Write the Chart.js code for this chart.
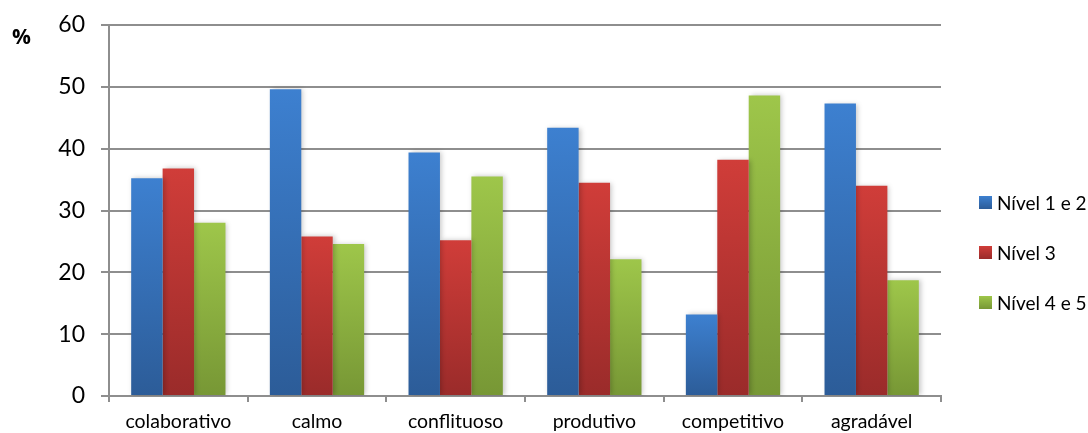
<!DOCTYPE html>
<html>
<head>
<meta charset="utf-8">
<script src="https://cdn.jsdelivr.net/npm/chart.js@4/dist/chart.umd.min.js"></script>
<style>
  body { margin: 0; background: #fff; }
  #wrap { position: relative; width: 1088px; height: 433px; }
  #pct { position: absolute; left: 12px; top: 22px; font-family: "Open Sans", sans-serif; font-weight: 700; font-size: 21px; color: #000; }
  #legend { position: absolute; left: 979px; top: 0; font: 19px Lato, sans-serif; color: #000; }
  .item { position: absolute; left: 0; white-space: nowrap; display: flex; align-items: center; }
  .item span.box { width: 13px; height: 13px; margin-right: 5px; display: inline-block; }
</style>
</head>
<body>
<div id="wrap">
  <canvas id="myChart" width="1088" height="433"></canvas>
  <div id="pct">%</div>
  <div id="legend"></div>
</div>
<script>
const categories = ['colaborativo', 'calmo', 'conflituoso', 'produtivo', 'competitivo', 'agradável'];
const seriesNames = ['Nível 1 e 2', 'Nível 3', 'Nível 4 e 5'];
const nivel12 = [35.2, 49.6, 39.4, 43.4, 13.2, 47.3];
const nivel3 = [36.8, 25.8, 25.2, 34.5, 38.2, 34.0];
const nivel45 = [28.0, 24.6, 35.5, 22.1, 48.6, 18.7];
const yTicks = [0, 10, 20, 30, 40, 50, 60];

// top and bottom colour of each bar's gradient
const shades = [
  ['#3d80d0', '#2c5c98'],
  ['#d03d39', '#9a2b2a'],
  ['#9ec64a', '#779735']
];

var barFill = function(idx){
  return function(ctx){
    var chart = ctx.chart;
    var y = chart.scales.y;
    if(!y || ctx.parsed === undefined) return shades[idx][0];
    var top = y.getPixelForValue(ctx.parsed.y);
    var bottom = y.getPixelForValue(0);
    if(!isFinite(top) || !isFinite(bottom) || top === bottom) return shades[idx][0];
    var g = chart.ctx.createLinearGradient(0, top, 0, bottom);
    g.addColorStop(0, shades[idx][0]);
    g.addColorStop(1, shades[idx][1]);
    return g;
  };
};

// soft shadow on the right side of the bars
var barShadow = {
  id: 'barShadow',
  beforeDatasetsDraw: function(chart){
    var c = chart.ctx;
    c.save();
    c.shadowColor = 'rgba(0,0,0,0.22)';
    c.shadowBlur = 5;
    c.shadowOffsetX = 2;
    c.shadowOffsetY = 0;
  },
  afterDatasetsDraw: function(chart){
    chart.ctx.restore();
  }
};

var values = [nivel12, nivel3, nivel45];
var datasets = seriesNames.map(function(name, i){
  return {
    label: name,
    data: values[i],
    backgroundColor: barFill(i),
    borderWidth: 0,
    categoryPercentage: 0.68,
    barPercentage: 1.0
  };
});

var gridColor = '#8e8e8e';

new Chart(document.getElementById('myChart'), {
  type: 'bar',
  data: { labels: categories, datasets: datasets },
  plugins: [barShadow],
  options: {
    responsive: false,
    devicePixelRatio: 1,
    animation: false,
    layout: { padding: { top: 25, right: 147, left: 0, bottom: 0 } },
    plugins: {
      legend: { display: false },
      tooltip: { enabled: false }
    },
    scales: {
      x: {
        offset: true,
        grid: { offset: true, drawOnChartArea: false, drawTicks: true, tickLength: 6, color: gridColor, lineWidth: 2 },
        border: { display: true, color: gridColor, width: 2 },
        ticks: { color: '#000', font: { family: 'Lato', size: 19.5 }, padding: 8, maxRotation: 0 },
        afterFit: function(s){ s.height = 37; s.paddingLeft = 0; s.paddingRight = 0; }
      },
      y: {
        min: 0,
        max: 60,
        afterBuildTicks: function(s){ s.ticks = yTicks.map(function(v){ return { value: v }; }); },
        grid: { color: gridColor, lineWidth: 2, tickLength: 8 },
        border: { display: true, color: gridColor, width: 2 },
        ticks: { color: '#000', font: { family: 'Lato', size: 23 }, padding: 16 },
        afterFit: function(s){ s.width = 109; s.paddingTop = 0; s.paddingBottom = 0; }
      }
    }
  }
});

// legend on the right
var legend = document.getElementById('legend');
var centers = [202, 252, 302];
seriesNames.forEach(function(name, i){
  var item = document.createElement('div');
  item.className = 'item';
  item.style.top = (centers[i] - 12) + 'px';
  item.style.height = '24px';
  var box = document.createElement('span');
  box.className = 'box';
  box.style.background = 'linear-gradient(' + shades[i][0] + ', ' + shades[i][1] + ')';
  item.appendChild(box);
  item.appendChild(document.createTextNode(name));
  legend.appendChild(item);
});
</script>
</body>
</html>
